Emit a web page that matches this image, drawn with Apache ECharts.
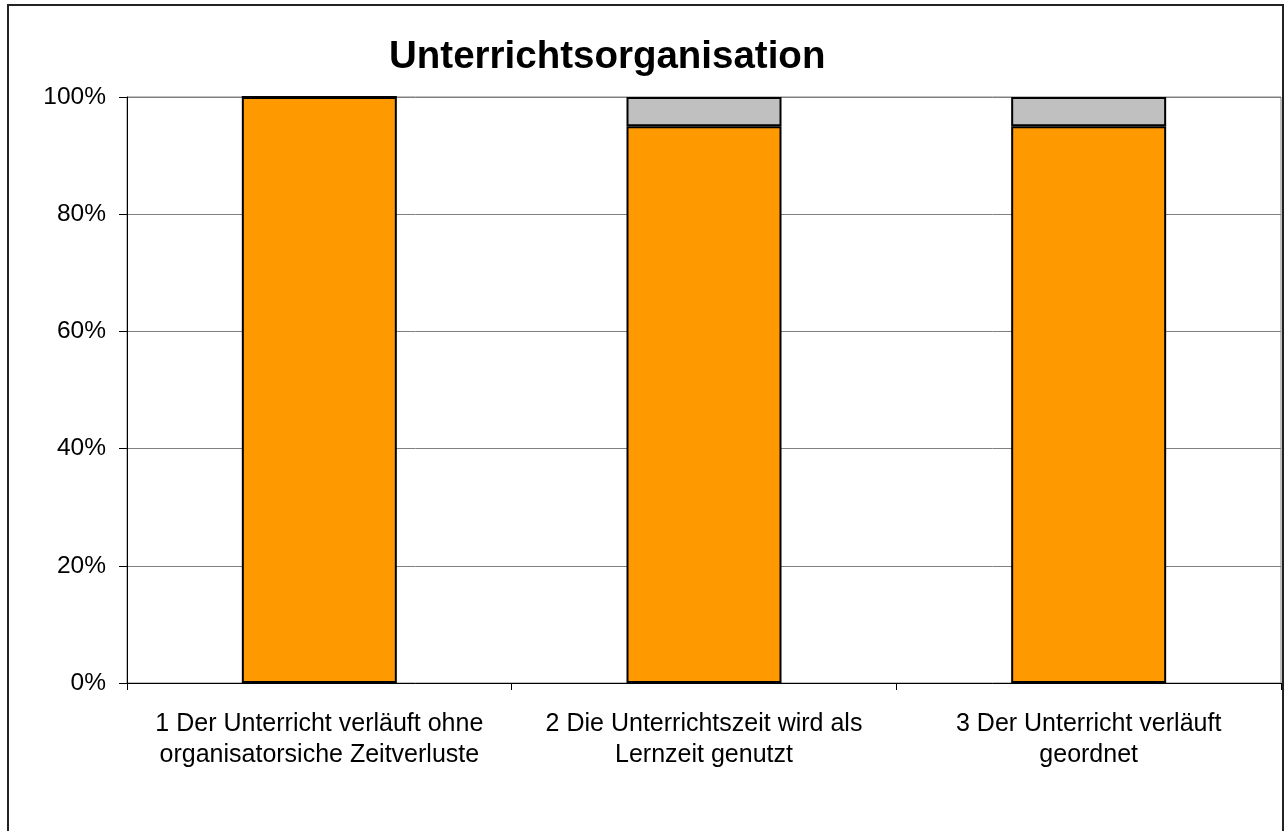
<!DOCTYPE html>
<html>
<head>
<meta charset="utf-8">
<script src="https://cdn.jsdelivr.net/npm/echarts@6/dist/echarts.min.js"></script>
<style>
  html, body { margin: 0; padding: 0; background: #fff; }
  #chart { width: 1288px; height: 831px; }
</style>
</head>
<body>
<div id="chart"></div>
<script>
// Werte (Prozent)
const categories = [
  '1 Der Unterricht verläuft ohne\norganisatorsiche Zeitverluste',
  '2 Die Unterrichtszeit wird als\nLernzeit genutzt',
  '3 Der Unterricht verläuft\ngeordnet'
]
const zuValues = [100, 95, 95]
const nichtZuValues = [0, 5, 5]
const yTicks = [0, 20, 40, 60, 80, 100]

const font = 'Liberation Sans, Arial, Helvetica, sans-serif'
const chart = echarts.init(document.getElementById('chart'))

const option = {
  animation: false,
  backgroundColor: '#fff',
  title: {
    text: 'Unterrichtsorganisation',
    left: 384,
    top: 33,
    textStyle: { fontFamily: font, fontSize: 38.5, fontWeight: 'bold', color: '#000' }
  },
  graphic: [
    {
      type: 'rect',
      shape: { x: 8, y: 5, width: 1275, height: 900 },
      style: { fill: 'none', stroke: '#222', lineWidth: 2 },
      silent: true
    }
  ],
  grid: {
    left: 127, right: 7, top: 97, bottom: 148,
    show: true, borderColor: '#808080', borderWidth: 1
  },
  xAxis: {
    type: 'category',
    data: categories,
    axisLine: { lineStyle: { color: '#000', width: 1 } },
    axisTick: { show: true, inside: false, length: 7, lineStyle: { color: '#000' } },
    axisLabel: {
      interval: 0, margin: 26,
      fontFamily: font, fontSize: 25, lineHeight: 31, color: '#000', align: 'center'
    }
  },
  yAxis: {
    type: 'value',
    min: yTicks[0], max: yTicks[yTicks.length - 1], interval: 20,
    axisLine: { show: true, lineStyle: { color: '#000', width: 1 } },
    axisTick: { show: true, length: 8, lineStyle: { color: '#000' } },
    axisLabel: { formatter: '{value}%', margin: 21, fontFamily: font, fontSize: 24.5, color: '#000' },
    splitLine: { lineStyle: { color: '#808080', width: 1 } }
  },
  series: [
    {
      name: 'trifft zu',
      type: 'bar',
      stack: 'gesamt',
      barWidth: 155,
      data: zuValues,
      itemStyle: { color: '#FF9900', borderColor: '#000', borderWidth: 2 }
    },
    {
      name: 'trifft nicht zu',
      type: 'bar',
      stack: 'gesamt',
      barWidth: 155,
      data: nichtZuValues,
      itemStyle: { color: '#C0C0C0', borderColor: '#000', borderWidth: 2 }
    }
  ]
}

chart.setOption(option)
</script>
</body>
</html>
